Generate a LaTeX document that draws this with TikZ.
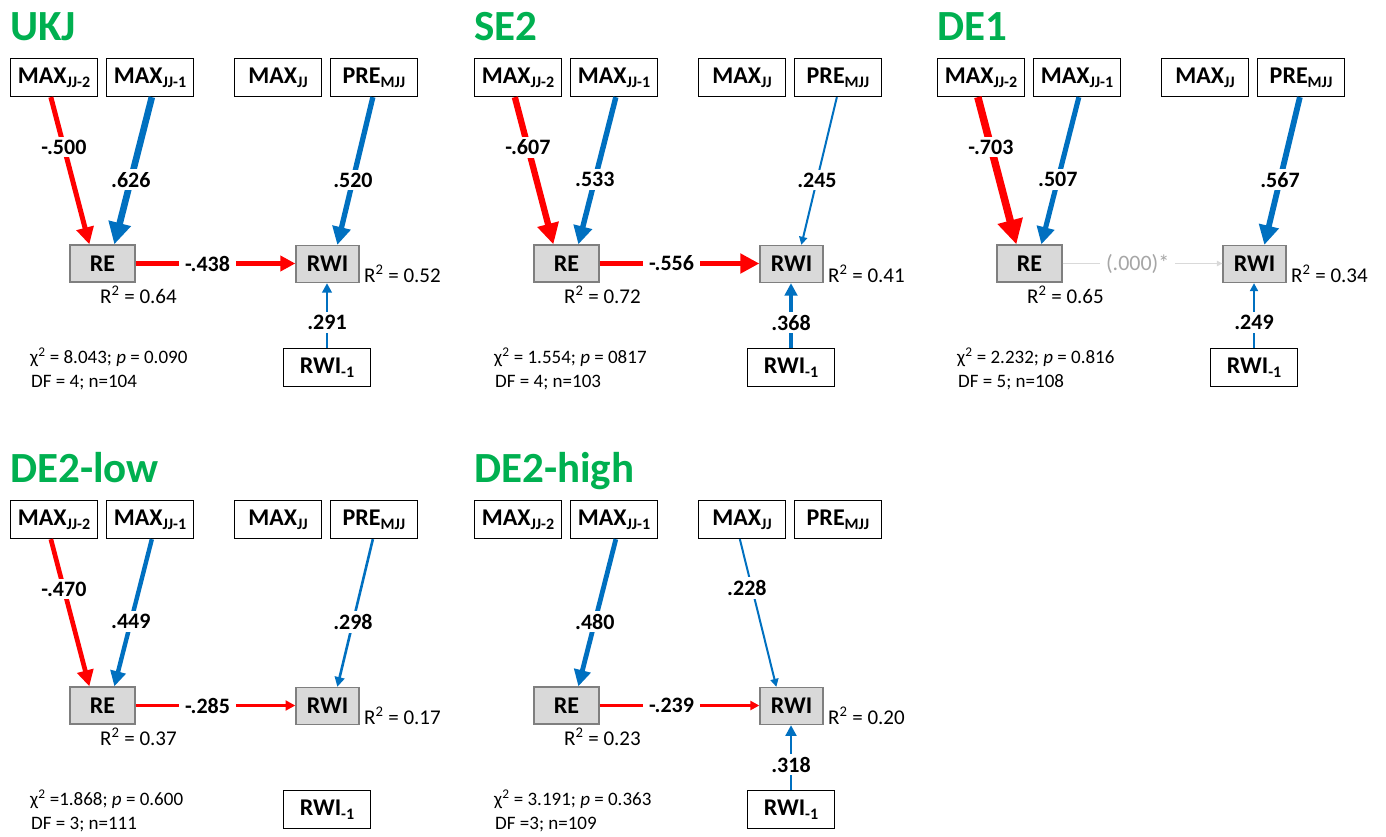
\documentclass[tikz,border=0pt]{standalone}
\usepackage{fontspec}
\setmainfont{Carlito}
\usetikzlibrary{arrows.meta,calc}

\definecolor{pathred}{HTML}{FF0000}
\definecolor{pathblue}{HTML}{0070C0}
\definecolor{titlegreen}{HTML}{00B050}
\definecolor{boxgrey}{HTML}{D9D9D9}
\definecolor{boxedge}{HTML}{7F7F7F}
\definecolor{nsline}{HTML}{D9D9D9}
\definecolor{nstext}{HTML}{A6A6A6}

% lowered index inside a variable box
\newcommand{\lo}[1]{\raisebox{-4pt}{\fontsize{16pt}{16pt}\selectfont #1}}

\tikzset{
  x=1pt, y=-1pt,
  var/.style={draw=black, line width=1.3pt, fill=white, minimum width=87pt,
    minimum height=38pt, inner sep=0pt,
    font=\fontsize{24pt}{24pt}\selectfont\bfseries},
  endo/.style={var, fill=boxgrey, draw=boxedge, minimum width=65pt, minimum height=37pt},
  coef/.style={fill=white, inner xsep=6pt, inner ysep=3pt, text=black,
    font=\fontsize{22pt}{22pt}\selectfont\bfseries},
  effect/.style={line width=#1pt, -{Triangle[length=2pt 3, width=2pt 3]}},
  rsq/.style={inner sep=0pt, anchor=base west, font=\fontsize{21pt}{21pt}\selectfont},
  stat/.style={inner sep=0pt, anchor=base west, font=\fontsize{19pt}{19pt}\selectfont},
  paneltitle/.style={inner sep=0pt, anchor=base west, text=titlegreen,
    font=\fontsize{43pt}{43pt}\selectfont\bfseries},
}

% variable boxes of one panel; #1 = name prefix
\newcommand{\panelboxes}[1]{%
  \node[var]  (#1m2) at (54,77.5)    {MAX\lo{JJ-2}};
  \node[var]  (#1m1) at (150,77.5)   {MAX\lo{JJ-1}};
  \node[var]  (#1mj) at (278,77.5)   {MAX\lo{JJ}};
  \node[var]  (#1pr) at (374,77.5)   {PRE\lo{MJJ}};
  \node[endo] (#1re) at (102.5,263.5) {RE};
  \node[endo, minimum width=63pt] (#1rw) at (327.5,264) {RWI};
  \node[var]  (#1r1) at (327,367.5)  {RWI\lo{-1}};
}
% paths: #1 prefix, #2 width, #3 coefficient
\newcommand{\lagtwo}[3]{\draw[effect=#2, draw=pathred, fill=pathred]
  ($(#1m2.south west)+(41,0)$) -- node[coef, pos=.34]{#3} ($(#1re.north west)+(20,0)$);}
\newcommand{\lagone}[3]{\draw[effect=#2, draw=pathblue, fill=pathblue]
  ($(#1m1.south west)+(46,0)$) -- node[coef, pos=.56]{#3} ($(#1re.north west)+(45,0)$);}
\newcommand{\prepath}[3]{\draw[effect=#2, draw=pathblue, fill=pathblue]
  ($(#1pr.south west)+(43,0)$) -- node[coef, pos=.56]{#3} ($(#1rw.north west)+(42,0)$);}
\newcommand{\maxcur}[3]{\draw[effect=#2, draw=pathblue, fill=pathblue]
  ($(#1mj.south west)+(42,0)$) -- node[coef, pos=.33, xshift=-5pt]{#3} ($(#1rw.north west)+(17,0)$);}
\newcommand{\reeff}[3]{\draw[effect=#2, draw=pathred, fill=pathred]
  (#1re.east) -- node[coef, pos=.45]{#3} (#1re.east -| #1rw.west);}
\newcommand{\prevring}[3]{\draw[effect=#2, draw=pathblue, fill=pathblue]
  (#1r1.north) -- node[coef, pos=.39]{#3} (#1r1.north |- #1rw.south);}

\begin{document}
\begin{tikzpicture}
\useasboundingbox (0,0) rectangle (1386,836);

% ---------------- UKJ
\begin{scope}[shift={(0,0)}]
  \node[paneltitle] (ukt) at (10,40) {UKJ};
  \panelboxes{uk}
  \lagtwo{uk}{5.0}{-.500}
  \lagone{uk}{6.6}{.626}
  \prepath{uk}{5.3}{.520}
  \reeff{uk}{4.3}{-.438}
  \prevring{uk}{2.5}{.291}
  \node[rsq] (ukr1) at (100,303) {R\textsuperscript{2} = 0.64};
  \node[rsq] (ukr2) at (364,282) {R\textsuperscript{2} = 0.52};
  \node[stat] (uks1) at (30,363) {χ\textsuperscript{2} = 8.043; \textit{p} = 0.090};
  \node[stat] (uks2) at (31,387) {DF = 4; n=104};
\end{scope}

% ---------------- SE2
\begin{scope}[shift={(464,0)}]
  \node[paneltitle] (set) at (10,40) {SE2};
  \panelboxes{se}
  \lagtwo{se}{6.3}{-.607}
  \lagone{se}{5.4}{.533}
  \prepath{se}{2.0}{.245}
  \reeff{se}{5.7}{-.556}
  \prevring{se}{3.5}{.368}
  \node[rsq] (ser1) at (100,303) {R\textsuperscript{2} = 0.72};
  \node[rsq] (ser2) at (364,282) {R\textsuperscript{2} = 0.41};
  \node[stat] (ses1) at (30,363) {χ\textsuperscript{2} = 1.554; \textit{p} = 0817};
  \node[stat] (ses2) at (31,387) {DF = 4; n=103};
\end{scope}

% ---------------- DE1
\begin{scope}[shift={(927,0)}]
  \node[paneltitle] (dat) at (10,40) {DE1};
  \panelboxes{da}
  \lagtwo{da}{7.5}{-.703}
  \lagone{da}{5.1}{.507}
  \prepath{da}{5.8}{.567}
  \draw[effect=1.2, draw=nsline, fill=nsline]
    (dare.east) -- node[pos=.47, fill=white, inner xsep=6pt, inner ysep=3pt, text=nstext,
      font=\fontsize{22pt}{22pt}\selectfont]{(.000)*} (dare.east -| darw.west);
  \prevring{da}{2.0}{.249}
  \node[rsq] (dar1) at (100,303) {R\textsuperscript{2} = 0.65};
  \node[rsq] (dar2) at (364,282) {R\textsuperscript{2} = 0.34};
  \node[stat] (das1) at (30,363) {χ\textsuperscript{2} = 2.232; \textit{p} = 0.816};
  \node[stat] (das2) at (31,387) {DF = 5; n=108};
\end{scope}

% ---------------- DE2-low
\begin{scope}[shift={(0,442)}]
  \node[paneltitle] (dlt) at (10,40) {DE2-low};
  \panelboxes{dl}
  \lagtwo{dl}{4.7}{-.470}
  \lagone{dl}{4.4}{.449}
  \prepath{dl}{2.6}{.298}
  \reeff{dl}{2.6}{-.285}
  \node[rsq] (dlr1) at (100,303) {R\textsuperscript{2} = 0.37};
  \node[rsq] (dlr2) at (364,282) {R\textsuperscript{2} = 0.17};
  \node[stat] (dls1) at (30,363) {χ\textsuperscript{2} =1.868; \textit{p} = 0.600};
  \node[stat] (dls2) at (31,387) {DF = 3; n=111};
\end{scope}

% ---------------- DE2-high
\begin{scope}[shift={(464,442)}]
  \node[paneltitle] (dht) at (10,40) {DE2-high};
  \panelboxes{dh}
  \lagone{dh}{4.8}{.480}
  \maxcur{dh}{2.0}{.228}
  \reeff{dh}{2.3}{-.239}
  \prevring{dh}{2.9}{.318}
  \node[rsq] (dhr1) at (100,303) {R\textsuperscript{2} = 0.23};
  \node[rsq] (dhr2) at (364,282) {R\textsuperscript{2} = 0.20};
  \node[stat] (dhs1) at (30,363) {χ\textsuperscript{2} = 3.191; \textit{p} = 0.363};
  \node[stat] (dhs2) at (31,387) {DF =3; n=109};
\end{scope}
\end{tikzpicture}
\end{document}
